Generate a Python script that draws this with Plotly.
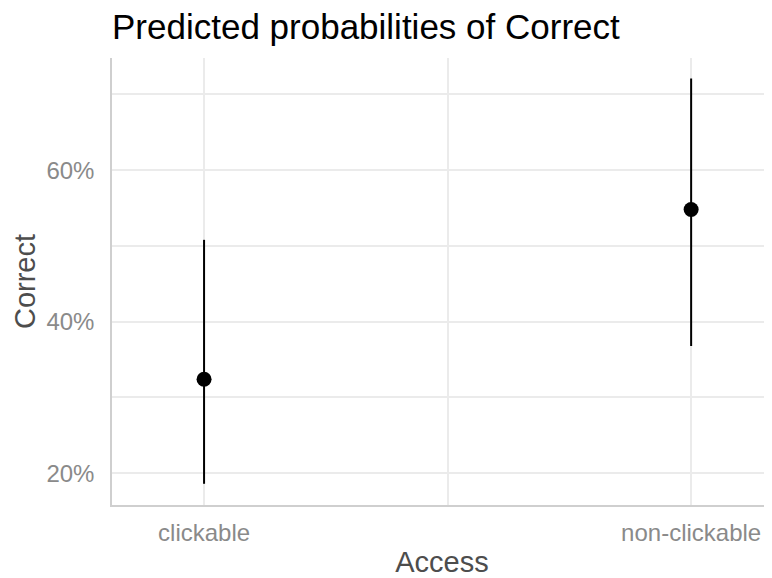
import plotly.graph_objects as go

categories = ["clickable", "non-clickable"]
predicted = [0.324, 0.548]
ci_low = [0.186, 0.368]
ci_high = [0.508, 0.721]
y_ticks = [0.2, 0.4, 0.6]
y_tick_labels = ["20%", "40%", "60%"]

xpos = list(range(1, len(categories) + 1))

fig = go.Figure(go.Scatter(
    x=xpos, y=predicted, mode="markers",
    marker=dict(color="black", size=15),
    error_y=dict(type="data", symmetric=False,
                 array=[h - p for h, p in zip(ci_high, predicted)],
                 arrayminus=[p - l for p, l in zip(predicted, ci_low)],
                 width=0, thickness=2, color="black"),
    showlegend=False,
))

# page body has an 8px margin: figure drawn 764x570 so it fills the 772x578 window
fig.update_layout(
    width=764, height=570,
    margin=dict(l=104, r=0, t=50, b=73),
    paper_bgcolor="white", plot_bgcolor="white",
    font=dict(family="Liberation Sans, Arial, sans-serif"),
    title=dict(text="Predicted probabilities of Correct",
               x=0, xref="paper", xanchor="left",
               y=1 - 19 / 570, yref="container", yanchor="middle",
               font=dict(size=35, color="black")),
)
fig.update_xaxes(
    range=[0.811, 2.166], tickmode="array", tickvals=xpos, ticktext=categories,
    tickfont=dict(size=24, color="#8a8a8a"),
    showgrid=True, gridcolor="#ebebeb", gridwidth=1.5,
    minor=dict(tickmode="array", tickvals=[1.5], showgrid=True, gridcolor="#ebebeb", gridwidth=1.5),
    showline=True, linecolor="#cfcfcf", linewidth=1.5,
    zeroline=False, ticklabelstandoff=5,
    title=dict(text="Access", font=dict(size=29, color="#4d4d4d"), standoff=9),
)
fig.update_yaxes(
    range=[0.158, 0.748], tickmode="array", tickvals=y_ticks, ticktext=y_tick_labels,
    tickfont=dict(size=24, color="#8a8a8a"),
    showgrid=True, gridcolor="#ebebeb", gridwidth=1.5,
    minor=dict(tickmode="array", tickvals=[0.3, 0.5, 0.7], showgrid=True, gridcolor="#ebebeb", gridwidth=1.5),
    showline=True, linecolor="#cfcfcf", linewidth=1.5,
    zeroline=False, ticklabelstandoff=11,
    title=dict(text="Correct", font=dict(size=29, color="#4d4d4d"), standoff=2),
)

fig.write_html("out.html")
